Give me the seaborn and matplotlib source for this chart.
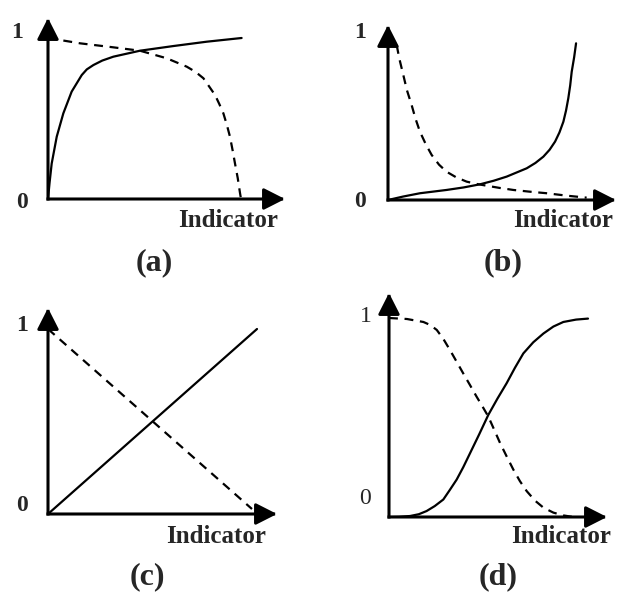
import matplotlib
matplotlib.use('Agg')
import matplotlib.pyplot as plt
import seaborn as sns

# panel (a): saturating rise (solid) and late collapse (dashed)
a_solid_x = [0.0, 0.008, 0.019, 0.045, 0.079, 0.122, 0.174, 0.2, 0.234, 0.28, 0.337, 0.474, 0.646, 0.818, 0.998]
a_solid_y = [0.0, 0.10, 0.22, 0.387, 0.532, 0.667, 0.770, 0.805, 0.832, 0.86, 0.884, 0.921, 0.950, 0.977, 1.0]
a_dash_x = [0.0, 0.165, 0.337, 0.474, 0.612, 0.715, 0.76, 0.801, 0.83, 0.861, 0.883, 0.904, 0.922,
            0.938, 0.952, 0.964, 0.978, 0.990, 0.995]
a_dash_y = [1.0, 0.967, 0.942, 0.921, 0.874, 0.822, 0.79, 0.750, 0.70, 0.646, 0.59, 0.532, 0.46,
            0.387, 0.30, 0.22, 0.13, 0.035, 0.0]

# panel (b): slow then explosive rise (solid), fast decay (dashed)
b_solid_x = [0.0, 0.08, 0.169, 0.31, 0.40, 0.487, 0.56, 0.628, 0.734, 0.78, 0.822, 0.855, 0.884,
             0.907, 0.928, 0.942, 0.954, 0.964, 0.972, 0.985, 0.995]
b_solid_y = [0.0, 0.022, 0.043, 0.064, 0.08, 0.100, 0.123, 0.149, 0.202, 0.236, 0.276, 0.32, 0.372,
             0.43, 0.499, 0.57, 0.648, 0.73, 0.817, 0.91, 0.998]
b_dash_x = [0.046, 0.06, 0.081, 0.10, 0.125, 0.145, 0.169, 0.20, 0.231, 0.27, 0.310, 0.36, 0.416,
            0.47, 0.522, 0.59, 0.663, 0.75, 0.840, 0.95, 1.051]
b_dash_y = [0.987, 0.90, 0.796, 0.70, 0.605, 0.52, 0.435, 0.355, 0.287, 0.225, 0.180, 0.145, 0.117,
            0.102, 0.091, 0.077, 0.064, 0.053, 0.043, 0.027, 0.015]

# panel (c): linear
c_solid_x = [0.0, 1.0]
c_solid_y = [0.0, 1.0]
c_dash_x = [0.0, 0.976]
c_dash_y = [1.0, 0.027]

# panel (d): sigmoid rise (solid) and sigmoid fall (dashed)
d_solid_x = [0.0, 0.05, 0.106, 0.15, 0.189, 0.23, 0.273, 0.305, 0.340, 0.373, 0.407, 0.453, 0.499,
             0.545, 0.591, 0.633, 0.675, 0.725, 0.776, 0.826, 0.876, 0.94, 1.0]
d_solid_y = [0.0, 0.001, 0.005, 0.014, 0.03, 0.055, 0.088, 0.135, 0.188, 0.25, 0.32, 0.415, 0.513,
             0.595, 0.672, 0.75, 0.822, 0.878, 0.922, 0.957, 0.98, 0.992, 0.997]
d_dash_x = [0.0, 0.09, 0.173, 0.207, 0.24, 0.273, 0.307, 0.34, 0.374, 0.407, 0.44, 0.47, 0.499,
            0.528, 0.558, 0.592, 0.625, 0.658, 0.692, 0.734, 0.776, 0.826, 0.876, 0.926]
d_dash_y = [1.0, 0.995, 0.98, 0.965, 0.94, 0.895, 0.838, 0.78, 0.72, 0.663, 0.605, 0.555, 0.505,
            0.44, 0.372, 0.303, 0.238, 0.18, 0.13, 0.082, 0.047, 0.022, 0.008, 0.0]

panel_tags = ['(a)', '(b)', '(c)', '(d)']
axis_label = 'Indicator'

sns.set_style('white')
plt.rcParams['font.family'] = ['Liberation Serif', 'DejaVu Serif']

W, H = 620, 592
fig = plt.figure(figsize=(W / 100, H / 100), dpi=100)


def fx(px):
    return px / W


def fy(py):
    return 1 - py / H


def make_panel(origin, tip_x, tip_y, one_x, one_y):
    # axes spans from origin to arrow tips, data unit given by the "1" points
    ox, oy = origin
    ax = fig.add_axes([fx(ox), fy(oy), (tip_x - ox) / W, (oy - tip_y) / H])
    ax.set_xlim(0, (tip_x - ox) / (one_x - ox))
    ax.set_ylim(0, (oy - tip_y) / (oy - one_y))
    ax.axis('off')
    arrow = dict(arrowstyle='-|>,head_length=0.65,head_width=0.33', mutation_scale=20,
                 lw=2.2, color='k', shrinkA=0, shrinkB=0, capstyle='projecting')
    for end in [(1, 0), (0, 1)]:
        ax.annotate('', xy=end, xytext=(0, 0), xycoords='axes fraction',
                    textcoords='axes fraction', arrowprops=arrow)
    return ax


def draw(ax, sx, sy, dx, dy):
    sns.lineplot(x=sx, y=sy, ax=ax, color='k', lw=1.6, sort=False, zorder=3)
    sns.lineplot(x=dx, y=dy, ax=ax, color='k', lw=1.6, sort=False, zorder=3,
                 dashes=False, linestyle=(0, (4, 3)))


ax_a = make_panel((48, 199), 285, 18, 242, 38)
draw(ax_a, a_solid_x, a_solid_y, a_dash_x, a_dash_y)
ax_b = make_panel((388, 200), 616, 25, 577, 43)
draw(ax_b, b_solid_x, b_solid_y, b_dash_x, b_dash_y)
ax_c = make_panel((48, 514), 277, 308, 257, 329)
draw(ax_c, c_solid_x, c_solid_y, c_dash_x, c_dash_y)
ax_d = make_panel((389, 517), 607, 293, 588, 318)
draw(ax_d, d_solid_x, d_solid_y, d_dash_x, d_dash_y)

# tick-like labels "1" / "0"
lbl = [((17, 38), (22, 208), 'bold'), ((360, 38), (360, 207), 'bold'),
       ((22, 331), (22, 511), 'bold'), ((366, 322), (365, 504), 'normal')]
for (p1, p0, wt) in lbl:
    fig.text(fx(p1[0]), fy(p1[1]), '1', ha='center', va='baseline', fontsize=17, fontweight=wt)
    fig.text(fx(p0[0]), fy(p0[1]), '0', ha='center', va='baseline', fontsize=17, fontweight=wt)

ind_pos = [(228, 227), (563, 227), (216, 543), (561, 543)]
for (x, y) in ind_pos:
    fig.text(fx(x), fy(y), axis_label, ha='center', va='baseline', fontsize=18, fontweight='bold')

tag_pos = [(154, 263), (503, 263), (147, 577), (498, 577)]
for tag, (x, y) in zip(panel_tags, tag_pos):
    fig.text(fx(x), fy(y), tag, ha='center', va='center', fontsize=23, fontweight='bold')

fig.savefig('out.png', dpi=100, facecolor='white')
